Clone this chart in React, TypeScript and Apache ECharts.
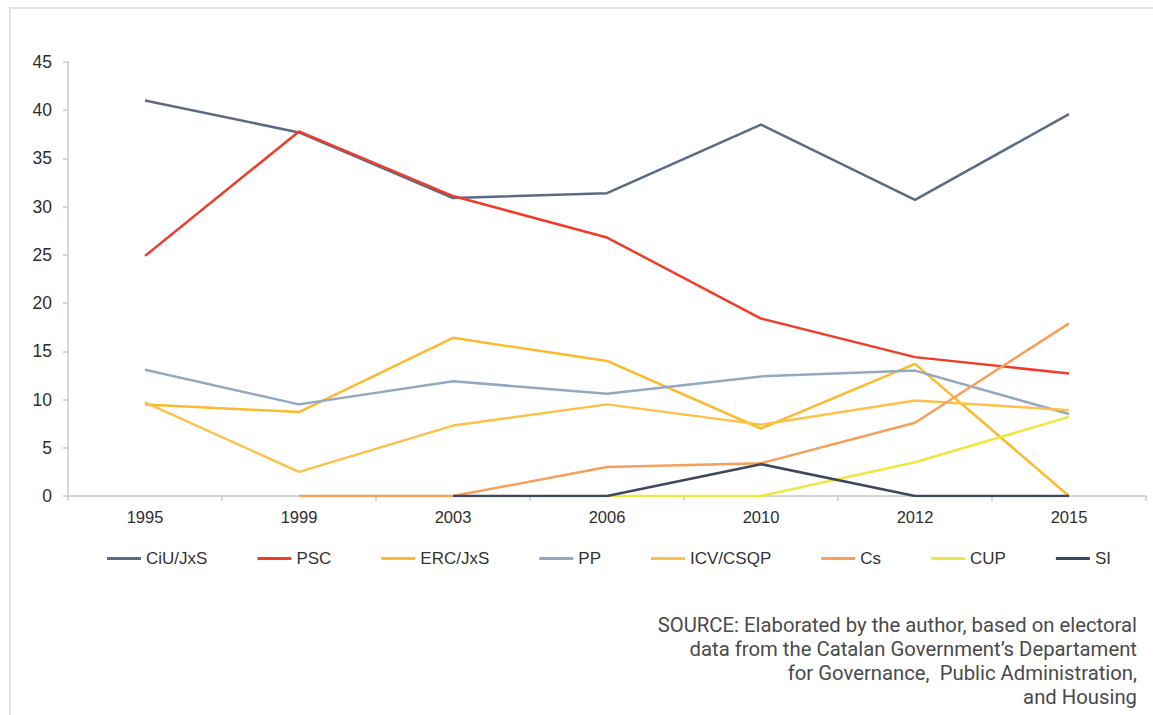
import React, { useEffect, useRef } from "react";
import * as echarts from "echarts";

// Catalan parliamentary elections: vote share (%) by party
const years = ["1995", "1999", "2003", "2006", "2010", "2012", "2015"];

const ciuJxs = [41.0, 37.7, 30.9, 31.4, 38.5, 30.7, 39.6];
const psc = [24.9, 37.8, 31.1, 26.8, 18.4, 14.4, 12.7];
const ercJxs = [9.5, 8.7, 16.4, 14.0, 7.0, 13.7, 0];
const pp = [13.1, 9.5, 11.9, 10.6, 12.4, 13.0, 8.5];
const icvCsqp = [9.7, 2.5, 7.3, 9.5, 7.4, 9.9, 8.9];
const cs = [null, 0, 0, 3.0, 3.4, 7.6, 17.9];
const cup = [null, null, null, 0, 0, 3.5, 8.2];
const si = [null, null, 0, 0, 3.3, 0, 0];

const yTicks = { min: 0, max: 45, interval: 5 };

const sourceLines = [
  "SOURCE: Elaborated by the author, based on electoral",
  "data from the Catalan Government\u2019s Departament",
  "for Governance,  Public Administration,",
  "and Housing",
];

const seriesDefs = [
  { name: "CiU/JxS", data: ciuJxs, color: "#5c6a83" },
  { name: "PSC", data: psc, color: "#ef3d2c" },
  { name: "ERC/JxS", data: ercJxs, color: "#fcbb2e" },
  { name: "PP", data: pp, color: "#94a9bf" },
  { name: "ICV/CSQP", data: icvCsqp, color: "#fcc148" },
  { name: "Cs", data: cs, color: "#f6a05b" },
  { name: "CUP", data: cup, color: "#ede83c" },
  { name: "SI", data: si, color: "#3f4661" },
];

export default function App() {
  const ref = useRef<HTMLDivElement>(null);

  useEffect(() => {
    if (!ref.current) return;
    const chart = echarts.init(ref.current, null, { renderer: "svg" });
    const axisFont = "Arial, Liberation Sans, sans-serif";
    // one text element per source note line, right-aligned
    const sourceTexts = sourceLines.map((line, i) => ({
      type: "text",
      x: 1137,
      y: 625 + i * 24,
      style: {
        text: line,
        align: "right",
        verticalAlign: "middle",
        fill: "#4a4a4a",
        fontSize: 20.3,
        lineHeight: 22,
        fontFamily: "Roboto, sans-serif",
      },
    }));
    chart.setOption({
      animation: false,
      backgroundColor: "#ffffff",
      grid: { left: 68, right: 7, top: 62, bottom: 219 },
      legend: {
        left: 107,
        top: 550,
        padding: 0,
        icon: "rect",
        itemWidth: 34,
        itemHeight: 3,
        itemGap: 50,
        textStyle: { color: "#333", fontSize: 17, fontFamily: axisFont },
        data: seriesDefs.map((s) => s.name),
      },
      xAxis: {
        type: "category",
        data: years,
        boundaryGap: true,
        axisLine: { lineStyle: { color: "#c8c8c8", width: 1.5 } },
        axisTick: { show: true, length: 5, lineStyle: { color: "#c8c8c8", width: 1.5 } },
        axisLabel: { color: "#2e2e2e", fontSize: 16.5, fontFamily: axisFont, margin: 12 },
        splitLine: { show: false },
      },
      yAxis: {
        type: "value",
        min: yTicks.min,
        max: yTicks.max,
        interval: yTicks.interval,
        axisLine: { show: true, lineStyle: { color: "#c8c8c8", width: 1.5 } },
        axisTick: { show: true, length: 5, lineStyle: { color: "#c8c8c8", width: 1.5 } },
        axisLabel: { color: "#2e2e2e", fontSize: 17.5, fontFamily: axisFont, margin: 16 },
        splitLine: { show: false },
      },
      series: seriesDefs.map((s) => ({
        name: s.name,
        type: "line",
        data: s.data,
        symbol: "none",
        connectNulls: false,
        itemStyle: { color: s.color },
        lineStyle: { color: s.color, width: 2.5 },
      })),
      graphic: [
        {
          type: "line",
          shape: { x1: 9, y1: 8, x2: 1153, y2: 8 },
          style: { stroke: "#e3e3e3", lineWidth: 2 },
        },
        {
          type: "line",
          shape: { x1: 10, y1: 8, x2: 10, y2: 715 },
          style: { stroke: "#e3e3e3", lineWidth: 2 },
        },
        ...sourceTexts,
      ],
    });
    return () => chart.dispose();
  }, []);

  return (
    <div
      ref={ref}
      style={{ position: "absolute", left: 0, top: 0, width: 1153, height: 715 }}
    />
  );
}
